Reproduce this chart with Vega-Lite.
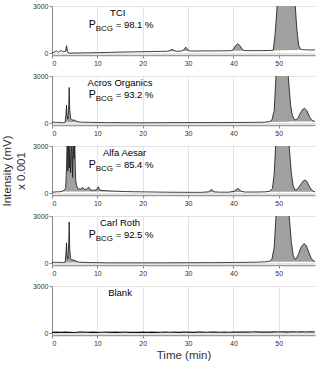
{
  "$schema": "https://vega.github.io/schema/vega-lite/v6.json",
  "padding": {"left": 1, "top": 2, "right": 3, "bottom": 2},
  "spacing": 21,
  "bounds": "flush",
  "datasets": {
    "curves": [
      {"s":"TCI","t":0,"v":20,"b":20},{"s":"TCI","t":0.5,"v":60,"b":60},{"s":"TCI","t":1.0,"v":150,"b":150},{"s":"TCI","t":1.2,"v":80,"b":80},{"s":"TCI","t":1.5,"v":60,"b":60},{"s":"TCI","t":2.0,"v":180,"b":180},{"s":"TCI","t":2.2,"v":100,"b":100},{"s":"TCI","t":2.6,"v":90,"b":90},{"s":"TCI","t":3.0,"v":120,"b":120},{"s":"TCI","t":3.2,"v":470,"b":120},{"s":"TCI","t":3.4,"v":150,"b":100},{"s":"TCI","t":3.6,"v":10,"b":10},{"s":"TCI","t":4,"v":0,"b":0},{"s":"TCI","t":5,"v":10,"b":10},{"s":"TCI","t":6,"v":10,"b":10},{"s":"TCI","t":8,"v":20,"b":20},{"s":"TCI","t":10,"v":30,"b":30},{"s":"TCI","t":12,"v":40,"b":40},{"s":"TCI","t":14,"v":60,"b":60},{"s":"TCI","t":16,"v":70,"b":70},{"s":"TCI","t":18,"v":80,"b":80},{"s":"TCI","t":20,"v":90,"b":90},{"s":"TCI","t":22,"v":100,"b":100},{"s":"TCI","t":24,"v":110,"b":110},{"s":"TCI","t":25.5,"v":120,"b":120},{"s":"TCI","t":26,"v":160,"b":120},{"s":"TCI","t":26.5,"v":240,"b":120},{"s":"TCI","t":27,"v":160,"b":120},{"s":"TCI","t":27.5,"v":120,"b":120},{"s":"TCI","t":28.5,"v":125,"b":125},{"s":"TCI","t":29,"v":200,"b":127},{"s":"TCI","t":29.5,"v":380,"b":128},{"s":"TCI","t":30,"v":200,"b":129},{"s":"TCI","t":30.5,"v":130,"b":130},{"s":"TCI","t":32,"v":135,"b":135},{"s":"TCI","t":34,"v":140,"b":140},{"s":"TCI","t":36,"v":140,"b":140},{"s":"TCI","t":38,"v":145,"b":145},{"s":"TCI","t":39.5,"v":150,"b":150},{"s":"TCI","t":40,"v":250,"b":150},{"s":"TCI","t":40.5,"v":480,"b":151},{"s":"TCI","t":41,"v":600,"b":152},{"s":"TCI","t":41.5,"v":450,"b":153},{"s":"TCI","t":42,"v":220,"b":154},{"s":"TCI","t":42.5,"v":160,"b":155},{"s":"TCI","t":44,"v":155,"b":155},{"s":"TCI","t":46,"v":160,"b":160},{"s":"TCI","t":48,"v":165,"b":165},{"s":"TCI","t":48.8,"v":200,"b":168},{"s":"TCI","t":49.2,"v":1200,"b":170},{"s":"TCI","t":49.6,"v":2800,"b":172},{"s":"TCI","t":50,"v":5000,"b":175},{"s":"TCI","t":51.5,"v":8000,"b":185},{"s":"TCI","t":53,"v":5000,"b":195},{"s":"TCI","t":53.6,"v":3200,"b":200},{"s":"TCI","t":54,"v":1500,"b":205},{"s":"TCI","t":54.4,"v":500,"b":210},{"s":"TCI","t":54.8,"v":250,"b":215},{"s":"TCI","t":55.2,"v":220,"b":220},{"s":"TCI","t":56,"v":210,"b":210},{"s":"TCI","t":57,"v":200,"b":200},{"s":"TCI","t":58,"v":200,"b":200},

      {"s":"Acros Organics","t":0,"v":50,"b":50},{"s":"Acros Organics","t":0.5,"v":60,"b":60},{"s":"Acros Organics","t":1,"v":40,"b":40},{"s":"Acros Organics","t":1.5,"v":50,"b":50},{"s":"Acros Organics","t":2,"v":30,"b":30},{"s":"Acros Organics","t":2.5,"v":20,"b":20},{"s":"Acros Organics","t":2.9,"v":50,"b":50},{"s":"Acros Organics","t":3.1,"v":600,"b":50},{"s":"Acros Organics","t":3.2,"v":1150,"b":50},{"s":"Acros Organics","t":3.3,"v":500,"b":50},{"s":"Acros Organics","t":3.5,"v":250,"b":50},{"s":"Acros Organics","t":3.7,"v":1200,"b":50},{"s":"Acros Organics","t":3.8,"v":2270,"b":50},{"s":"Acros Organics","t":3.9,"v":900,"b":50},{"s":"Acros Organics","t":4.1,"v":300,"b":50},{"s":"Acros Organics","t":4.3,"v":250,"b":50},{"s":"Acros Organics","t":4.6,"v":180,"b":50},{"s":"Acros Organics","t":5.0,"v":200,"b":50},{"s":"Acros Organics","t":5.3,"v":120,"b":50},{"s":"Acros Organics","t":5.8,"v":80,"b":50},{"s":"Acros Organics","t":6.5,"v":60,"b":60},{"s":"Acros Organics","t":8,"v":50,"b":50},{"s":"Acros Organics","t":10,"v":40,"b":40},{"s":"Acros Organics","t":12,"v":30,"b":30},{"s":"Acros Organics","t":15,"v":30,"b":30},{"s":"Acros Organics","t":20,"v":20,"b":20},{"s":"Acros Organics","t":25,"v":30,"b":30},{"s":"Acros Organics","t":30,"v":35,"b":35},{"s":"Acros Organics","t":35,"v":35,"b":35},{"s":"Acros Organics","t":40,"v":40,"b":40},{"s":"Acros Organics","t":45,"v":50,"b":50},{"s":"Acros Organics","t":47,"v":60,"b":60},{"s":"Acros Organics","t":48,"v":100,"b":70},{"s":"Acros Organics","t":48.5,"v":200,"b":72},{"s":"Acros Organics","t":49,"v":800,"b":75},{"s":"Acros Organics","t":49.4,"v":3000,"b":78},{"s":"Acros Organics","t":50,"v":6000,"b":80},{"s":"Acros Organics","t":51,"v":7000,"b":85},{"s":"Acros Organics","t":51.8,"v":4000,"b":90},{"s":"Acros Organics","t":52.1,"v":3000,"b":92},{"s":"Acros Organics","t":52.6,"v":1200,"b":95},{"s":"Acros Organics","t":53,"v":500,"b":98},{"s":"Acros Organics","t":53.4,"v":250,"b":100},{"s":"Acros Organics","t":53.8,"v":200,"b":100},{"s":"Acros Organics","t":54.3,"v":350,"b":100},{"s":"Acros Organics","t":54.8,"v":650,"b":100},{"s":"Acros Organics","t":55.3,"v":880,"b":100},{"s":"Acros Organics","t":55.7,"v":940,"b":100},{"s":"Acros Organics","t":56.2,"v":800,"b":100},{"s":"Acros Organics","t":56.7,"v":450,"b":100},{"s":"Acros Organics","t":57.2,"v":220,"b":100},{"s":"Acros Organics","t":57.7,"v":130,"b":100},{"s":"Acros Organics","t":58,"v":110,"b":100},

      {"s":"Alfa Aesar","t":0,"v":80,"b":80},{"s":"Alfa Aesar","t":0.5,"v":60,"b":60},{"s":"Alfa Aesar","t":1,"v":90,"b":90},{"s":"Alfa Aesar","t":1.5,"v":80,"b":80},{"s":"Alfa Aesar","t":2,"v":100,"b":100},{"s":"Alfa Aesar","t":2.5,"v":150,"b":100},{"s":"Alfa Aesar","t":3.0,"v":300,"b":100},{"s":"Alfa Aesar","t":3.2,"v":1500,"b":100},{"s":"Alfa Aesar","t":3.35,"v":3500,"b":100},{"s":"Alfa Aesar","t":3.5,"v":1400,"b":100},{"s":"Alfa Aesar","t":3.65,"v":3500,"b":100},{"s":"Alfa Aesar","t":3.8,"v":1600,"b":100},{"s":"Alfa Aesar","t":3.95,"v":3500,"b":100},{"s":"Alfa Aesar","t":4.1,"v":1300,"b":100},{"s":"Alfa Aesar","t":4.25,"v":2400,"b":100},{"s":"Alfa Aesar","t":4.4,"v":3500,"b":100},{"s":"Alfa Aesar","t":4.55,"v":1000,"b":100},{"s":"Alfa Aesar","t":4.7,"v":3500,"b":100},{"s":"Alfa Aesar","t":4.85,"v":2200,"b":100},{"s":"Alfa Aesar","t":5.0,"v":3500,"b":100},{"s":"Alfa Aesar","t":5.2,"v":900,"b":100},{"s":"Alfa Aesar","t":5.4,"v":500,"b":100},{"s":"Alfa Aesar","t":5.7,"v":300,"b":100},{"s":"Alfa Aesar","t":6.2,"v":250,"b":100},{"s":"Alfa Aesar","t":6.8,"v":350,"b":100},{"s":"Alfa Aesar","t":7.2,"v":220,"b":100},{"s":"Alfa Aesar","t":7.6,"v":250,"b":100},{"s":"Alfa Aesar","t":8.1,"v":380,"b":100},{"s":"Alfa Aesar","t":8.5,"v":200,"b":100},{"s":"Alfa Aesar","t":9.2,"v":180,"b":100},{"s":"Alfa Aesar","t":9.8,"v":200,"b":100},{"s":"Alfa Aesar","t":10.2,"v":400,"b":100},{"s":"Alfa Aesar","t":10.6,"v":180,"b":100},{"s":"Alfa Aesar","t":12,"v":150,"b":100},{"s":"Alfa Aesar","t":14,"v":120,"b":100},{"s":"Alfa Aesar","t":16,"v":100,"b":100},{"s":"Alfa Aesar","t":18,"v":90,"b":90},{"s":"Alfa Aesar","t":20,"v":80,"b":80},{"s":"Alfa Aesar","t":25,"v":60,"b":60},{"s":"Alfa Aesar","t":30,"v":50,"b":50},{"s":"Alfa Aesar","t":33,"v":50,"b":50},{"s":"Alfa Aesar","t":34.5,"v":80,"b":50},{"s":"Alfa Aesar","t":35.2,"v":230,"b":50},{"s":"Alfa Aesar","t":35.8,"v":80,"b":50},{"s":"Alfa Aesar","t":37,"v":60,"b":60},{"s":"Alfa Aesar","t":39,"v":60,"b":60},{"s":"Alfa Aesar","t":40.2,"v":120,"b":62},{"s":"Alfa Aesar","t":41,"v":300,"b":65},{"s":"Alfa Aesar","t":41.7,"v":120,"b":68},{"s":"Alfa Aesar","t":42.5,"v":70,"b":70},{"s":"Alfa Aesar","t":45,"v":70,"b":70},{"s":"Alfa Aesar","t":47,"v":80,"b":80},{"s":"Alfa Aesar","t":48,"v":120,"b":85},{"s":"Alfa Aesar","t":48.6,"v":300,"b":87},{"s":"Alfa Aesar","t":49,"v":1200,"b":90},{"s":"Alfa Aesar","t":49.3,"v":3000,"b":90},{"s":"Alfa Aesar","t":50,"v":6000,"b":90},{"s":"Alfa Aesar","t":51,"v":7000,"b":90},{"s":"Alfa Aesar","t":51.9,"v":4000,"b":90},{"s":"Alfa Aesar","t":52.3,"v":3000,"b":90},{"s":"Alfa Aesar","t":52.8,"v":1200,"b":90},{"s":"Alfa Aesar","t":53.2,"v":450,"b":90},{"s":"Alfa Aesar","t":53.6,"v":200,"b":90},{"s":"Alfa Aesar","t":54,"v":220,"b":90},{"s":"Alfa Aesar","t":54.5,"v":400,"b":90},{"s":"Alfa Aesar","t":55,"v":620,"b":90},{"s":"Alfa Aesar","t":55.5,"v":800,"b":90},{"s":"Alfa Aesar","t":55.9,"v":830,"b":90},{"s":"Alfa Aesar","t":56.3,"v":700,"b":90},{"s":"Alfa Aesar","t":56.8,"v":400,"b":90},{"s":"Alfa Aesar","t":57.3,"v":180,"b":90},{"s":"Alfa Aesar","t":57.8,"v":100,"b":90},{"s":"Alfa Aesar","t":58,"v":90,"b":90},

      {"s":"Carl Roth","t":0,"v":60,"b":60},{"s":"Carl Roth","t":0.5,"v":50,"b":50},{"s":"Carl Roth","t":1,"v":60,"b":60},{"s":"Carl Roth","t":1.5,"v":40,"b":40},{"s":"Carl Roth","t":2,"v":50,"b":50},{"s":"Carl Roth","t":2.5,"v":30,"b":30},{"s":"Carl Roth","t":2.9,"v":60,"b":40},{"s":"Carl Roth","t":3.1,"v":700,"b":40},{"s":"Carl Roth","t":3.2,"v":1290,"b":40},{"s":"Carl Roth","t":3.3,"v":500,"b":40},{"s":"Carl Roth","t":3.5,"v":250,"b":40},{"s":"Carl Roth","t":3.7,"v":1400,"b":40},{"s":"Carl Roth","t":3.8,"v":2620,"b":40},{"s":"Carl Roth","t":3.9,"v":900,"b":40},{"s":"Carl Roth","t":4.1,"v":300,"b":40},{"s":"Carl Roth","t":4.3,"v":220,"b":40},{"s":"Carl Roth","t":4.6,"v":200,"b":40},{"s":"Carl Roth","t":5,"v":180,"b":40},{"s":"Carl Roth","t":5.5,"v":100,"b":40},{"s":"Carl Roth","t":6,"v":60,"b":40},{"s":"Carl Roth","t":8,"v":40,"b":40},{"s":"Carl Roth","t":10,"v":30,"b":30},{"s":"Carl Roth","t":12,"v":20,"b":20},{"s":"Carl Roth","t":15,"v":20,"b":20},{"s":"Carl Roth","t":20,"v":20,"b":20},{"s":"Carl Roth","t":25,"v":20,"b":20},{"s":"Carl Roth","t":30,"v":25,"b":25},{"s":"Carl Roth","t":35,"v":30,"b":30},{"s":"Carl Roth","t":40,"v":40,"b":40},{"s":"Carl Roth","t":45,"v":60,"b":60},{"s":"Carl Roth","t":47,"v":80,"b":80},{"s":"Carl Roth","t":48,"v":120,"b":85},{"s":"Carl Roth","t":48.5,"v":250,"b":88},{"s":"Carl Roth","t":49,"v":1000,"b":90},{"s":"Carl Roth","t":49.4,"v":3000,"b":90},{"s":"Carl Roth","t":50,"v":6000,"b":90},{"s":"Carl Roth","t":51,"v":7000,"b":90},{"s":"Carl Roth","t":51.9,"v":4000,"b":90},{"s":"Carl Roth","t":52.3,"v":3000,"b":90},{"s":"Carl Roth","t":52.8,"v":1300,"b":90},{"s":"Carl Roth","t":53.2,"v":500,"b":90},{"s":"Carl Roth","t":53.5,"v":250,"b":90},{"s":"Carl Roth","t":53.9,"v":300,"b":90},{"s":"Carl Roth","t":54.4,"v":600,"b":90},{"s":"Carl Roth","t":54.9,"v":1000,"b":90},{"s":"Carl Roth","t":55.4,"v":1200,"b":90},{"s":"Carl Roth","t":55.7,"v":1230,"b":90},{"s":"Carl Roth","t":56.1,"v":1100,"b":90},{"s":"Carl Roth","t":56.6,"v":700,"b":90},{"s":"Carl Roth","t":57.1,"v":350,"b":90},{"s":"Carl Roth","t":57.6,"v":150,"b":90},{"s":"Carl Roth","t":58,"v":100,"b":90},

      {"s":"Blank","t":0,"v":50,"b":50},{"s":"Blank","t":1,"v":60,"b":60},{"s":"Blank","t":2,"v":45,"b":45},{"s":"Blank","t":3,"v":65,"b":65},{"s":"Blank","t":4,"v":50,"b":50},{"s":"Blank","t":5,"v":40,"b":40},{"s":"Blank","t":6,"v":60,"b":60},{"s":"Blank","t":7,"v":70,"b":70},{"s":"Blank","t":8,"v":50,"b":50},{"s":"Blank","t":9,"v":60,"b":60},{"s":"Blank","t":10,"v":45,"b":45},{"s":"Blank","t":11,"v":55,"b":55},{"s":"Blank","t":12,"v":65,"b":65},{"s":"Blank","t":13,"v":50,"b":50},{"s":"Blank","t":14,"v":60,"b":60},{"s":"Blank","t":15,"v":50,"b":50},{"s":"Blank","t":16,"v":70,"b":70},{"s":"Blank","t":17,"v":50,"b":50},{"s":"Blank","t":18,"v":55,"b":55},{"s":"Blank","t":19,"v":45,"b":45},{"s":"Blank","t":20,"v":60,"b":60},{"s":"Blank","t":21,"v":50,"b":50},{"s":"Blank","t":22,"v":65,"b":65},{"s":"Blank","t":23,"v":50,"b":50},{"s":"Blank","t":24,"v":55,"b":55},{"s":"Blank","t":25,"v":70,"b":70},{"s":"Blank","t":26,"v":55,"b":55},{"s":"Blank","t":27,"v":60,"b":60},{"s":"Blank","t":28,"v":50,"b":50},{"s":"Blank","t":29,"v":65,"b":65},{"s":"Blank","t":30,"v":60,"b":60},{"s":"Blank","t":31,"v":50,"b":50},{"s":"Blank","t":32,"v":60,"b":60},{"s":"Blank","t":33,"v":70,"b":70},{"s":"Blank","t":34,"v":55,"b":55},{"s":"Blank","t":35,"v":60,"b":60},{"s":"Blank","t":36,"v":70,"b":70},{"s":"Blank","t":37,"v":55,"b":55},{"s":"Blank","t":38,"v":65,"b":65},{"s":"Blank","t":39,"v":55,"b":55},{"s":"Blank","t":40,"v":75,"b":75},{"s":"Blank","t":41,"v":60,"b":60},{"s":"Blank","t":42,"v":70,"b":70},{"s":"Blank","t":43,"v":60,"b":60},{"s":"Blank","t":44,"v":70,"b":70},{"s":"Blank","t":45,"v":80,"b":80},{"s":"Blank","t":46,"v":65,"b":65},{"s":"Blank","t":47,"v":75,"b":75},{"s":"Blank","t":48,"v":60,"b":60},{"s":"Blank","t":49,"v":80,"b":80},{"s":"Blank","t":50,"v":70,"b":70},{"s":"Blank","t":51,"v":80,"b":80},{"s":"Blank","t":52,"v":65,"b":65},{"s":"Blank","t":53,"v":85,"b":85},{"s":"Blank","t":54,"v":70,"b":70},{"s":"Blank","t":55,"v":80,"b":80},{"s":"Blank","t":56,"v":70,"b":70},{"s":"Blank","t":57,"v":85,"b":85},{"s":"Blank","t":58,"v":75,"b":75}
    ],
    "labels": [
      {"s":"TCI","name":"TCI","p":"= 98.1 %","lt":14.5,"lv":2550,"pt":8.1,"pv":1800},
      {"s":"Acros Organics","name":"Acros Organics","p":"= 93.2 %","lt":15,"lv":2550,"pt":8.1,"pv":1800},
      {"s":"Alfa Aesar","name":"Alfa Aesar","p":"= 85.4 %","lt":16,"lv":2550,"pt":8.1,"pv":1800},
      {"s":"Carl Roth","name":"Carl Roth","p":"= 92.5 %","lt":15,"lv":2550,"pt":8.1,"pv":1800},
      {"s":"Blank","name":"Blank","p":"","lt":15,"lv":2550,"pt":8.1,"pv":1800}
    ]
  },
  "vconcat": [
    {
      "width": 263, "height": 49,
      "layer": [
        {"data": {"name": "curves"}, "transform": [{"filter": "datum.s === 'TCI'"}],
         "mark": {"type": "area", "clip": true, "color": "#a0a0a0"},
         "encoding": {"x": {"field": "t", "type": "quantitative", "scale": {"domain": [0, 58], "nice": false}, "axis": {"values": [0,10,20,30,40,50], "title": null}},
                      "y": {"field": "v", "type": "quantitative", "scale": {"domain": [-120, 3000], "nice": false}, "axis": {"values": [0,1000,2000,3000], "format": "d", "title": null}},
                      "y2": {"field": "b"}}},
        {"data": {"name": "curves"}, "transform": [{"filter": "datum.s === 'TCI'"}],
         "mark": {"type": "line", "clip": true, "color": "#111", "strokeWidth": 0.8},
         "encoding": {"x": {"field": "t", "type": "quantitative"}, "y": {"field": "v", "type": "quantitative"}}},
        {"data": {"name": "labels"}, "transform": [{"filter": "datum.s === 'TCI'"}],
         "mark": {"type": "text", "fontSize": 9.5, "align": "center", "baseline": "middle", "color": "#000"},
         "encoding": {"x": {"field": "lt", "type": "quantitative"}, "y": {"field": "lv", "type": "quantitative"}, "text": {"field": "name"}}},
        {"data": {"name": "labels"}, "transform": [{"filter": "datum.s === 'TCI'"}],
         "mark": {"type": "text", "fontSize": 10.5, "align": "left", "baseline": "middle", "color": "#000"},
         "encoding": {"x": {"field": "pt", "type": "quantitative"}, "y": {"field": "pv", "type": "quantitative"}, "text": {"value": "P"}}},
        {"data": {"name": "labels"}, "transform": [{"filter": "datum.s === 'TCI'"}],
         "mark": {"type": "text", "fontSize": 8, "align": "left", "baseline": "middle", "dx": 7, "dy": 4, "color": "#000"},
         "encoding": {"x": {"field": "pt", "type": "quantitative"}, "y": {"field": "pv", "type": "quantitative"}, "text": {"value": "BCG"}}},
        {"data": {"name": "labels"}, "transform": [{"filter": "datum.s === 'TCI'"}],
         "mark": {"type": "text", "fontSize": 9.5, "align": "left", "baseline": "middle", "dx": 27, "color": "#000"},
         "encoding": {"x": {"field": "pt", "type": "quantitative"}, "y": {"field": "pv", "type": "quantitative"}, "text": {"field": "p"}}}
      ]
    },
    {
      "width": 263, "height": 49,
      "layer": [
        {"data": {"name": "curves"}, "transform": [{"filter": "datum.s === 'Acros Organics'"}],
         "mark": {"type": "area", "clip": true, "color": "#a0a0a0"},
         "encoding": {"x": {"field": "t", "type": "quantitative", "scale": {"domain": [0, 58], "nice": false}, "axis": {"values": [0,10,20,30,40,50], "title": null}},
                      "y": {"field": "v", "type": "quantitative", "scale": {"domain": [-120, 3000], "nice": false}, "axis": {"values": [0,1000,2000,3000], "format": "d", "title": null}},
                      "y2": {"field": "b"}}},
        {"data": {"name": "curves"}, "transform": [{"filter": "datum.s === 'Acros Organics'"}],
         "mark": {"type": "line", "clip": true, "color": "#111", "strokeWidth": 0.8},
         "encoding": {"x": {"field": "t", "type": "quantitative"}, "y": {"field": "v", "type": "quantitative"}}},
        {"data": {"name": "labels"}, "transform": [{"filter": "datum.s === 'Acros Organics'"}],
         "mark": {"type": "text", "fontSize": 9.5, "align": "center", "baseline": "middle", "color": "#000"},
         "encoding": {"x": {"field": "lt", "type": "quantitative"}, "y": {"field": "lv", "type": "quantitative"}, "text": {"field": "name"}}},
        {"data": {"name": "labels"}, "transform": [{"filter": "datum.s === 'Acros Organics'"}],
         "mark": {"type": "text", "fontSize": 10.5, "align": "left", "baseline": "middle", "color": "#000"},
         "encoding": {"x": {"field": "pt", "type": "quantitative"}, "y": {"field": "pv", "type": "quantitative"}, "text": {"value": "P"}}},
        {"data": {"name": "labels"}, "transform": [{"filter": "datum.s === 'Acros Organics'"}],
         "mark": {"type": "text", "fontSize": 8, "align": "left", "baseline": "middle", "dx": 7, "dy": 4, "color": "#000"},
         "encoding": {"x": {"field": "pt", "type": "quantitative"}, "y": {"field": "pv", "type": "quantitative"}, "text": {"value": "BCG"}}},
        {"data": {"name": "labels"}, "transform": [{"filter": "datum.s === 'Acros Organics'"}],
         "mark": {"type": "text", "fontSize": 9.5, "align": "left", "baseline": "middle", "dx": 27, "color": "#000"},
         "encoding": {"x": {"field": "pt", "type": "quantitative"}, "y": {"field": "pv", "type": "quantitative"}, "text": {"field": "p"}}}
      ]
    },
    {
      "width": 263, "height": 49,
      "layer": [
        {"data": {"name": "curves"}, "transform": [{"filter": "datum.s === 'Alfa Aesar'"}],
         "mark": {"type": "area", "clip": true, "color": "#a0a0a0"},
         "encoding": {"x": {"field": "t", "type": "quantitative", "scale": {"domain": [0, 58], "nice": false}, "axis": {"values": [0,10,20,30,40,50], "title": null}},
                      "y": {"field": "v", "type": "quantitative", "scale": {"domain": [-120, 3000], "nice": false}, "axis": {"values": [0,1000,2000,3000], "format": "d", "title": ["Intensity (mV)", "x 0.001"], "titlePadding": 6}},
                      "y2": {"field": "b"}}},
        {"data": {"name": "curves"}, "transform": [{"filter": "datum.s === 'Alfa Aesar'"}],
         "mark": {"type": "line", "clip": true, "color": "#111", "strokeWidth": 0.8},
         "encoding": {"x": {"field": "t", "type": "quantitative"}, "y": {"field": "v", "type": "quantitative"}}},
        {"data": {"name": "labels"}, "transform": [{"filter": "datum.s === 'Alfa Aesar'"}],
         "mark": {"type": "text", "fontSize": 9.5, "align": "center", "baseline": "middle", "color": "#000"},
         "encoding": {"x": {"field": "lt", "type": "quantitative"}, "y": {"field": "lv", "type": "quantitative"}, "text": {"field": "name"}}},
        {"data": {"name": "labels"}, "transform": [{"filter": "datum.s === 'Alfa Aesar'"}],
         "mark": {"type": "text", "fontSize": 10.5, "align": "left", "baseline": "middle", "color": "#000"},
         "encoding": {"x": {"field": "pt", "type": "quantitative"}, "y": {"field": "pv", "type": "quantitative"}, "text": {"value": "P"}}},
        {"data": {"name": "labels"}, "transform": [{"filter": "datum.s === 'Alfa Aesar'"}],
         "mark": {"type": "text", "fontSize": 8, "align": "left", "baseline": "middle", "dx": 7, "dy": 4, "color": "#000"},
         "encoding": {"x": {"field": "pt", "type": "quantitative"}, "y": {"field": "pv", "type": "quantitative"}, "text": {"value": "BCG"}}},
        {"data": {"name": "labels"}, "transform": [{"filter": "datum.s === 'Alfa Aesar'"}],
         "mark": {"type": "text", "fontSize": 9.5, "align": "left", "baseline": "middle", "dx": 27, "color": "#000"},
         "encoding": {"x": {"field": "pt", "type": "quantitative"}, "y": {"field": "pv", "type": "quantitative"}, "text": {"field": "p"}}}
      ]
    },
    {
      "width": 263, "height": 49,
      "layer": [
        {"data": {"name": "curves"}, "transform": [{"filter": "datum.s === 'Carl Roth'"}],
         "mark": {"type": "area", "clip": true, "color": "#a0a0a0"},
         "encoding": {"x": {"field": "t", "type": "quantitative", "scale": {"domain": [0, 58], "nice": false}, "axis": {"values": [0,10,20,30,40,50], "title": null}},
                      "y": {"field": "v", "type": "quantitative", "scale": {"domain": [-120, 3000], "nice": false}, "axis": {"values": [0,1000,2000,3000], "format": "d", "title": null}},
                      "y2": {"field": "b"}}},
        {"data": {"name": "curves"}, "transform": [{"filter": "datum.s === 'Carl Roth'"}],
         "mark": {"type": "line", "clip": true, "color": "#111", "strokeWidth": 0.8},
         "encoding": {"x": {"field": "t", "type": "quantitative"}, "y": {"field": "v", "type": "quantitative"}}},
        {"data": {"name": "labels"}, "transform": [{"filter": "datum.s === 'Carl Roth'"}],
         "mark": {"type": "text", "fontSize": 9.5, "align": "center", "baseline": "middle", "color": "#000"},
         "encoding": {"x": {"field": "lt", "type": "quantitative"}, "y": {"field": "lv", "type": "quantitative"}, "text": {"field": "name"}}},
        {"data": {"name": "labels"}, "transform": [{"filter": "datum.s === 'Carl Roth'"}],
         "mark": {"type": "text", "fontSize": 10.5, "align": "left", "baseline": "middle", "color": "#000"},
         "encoding": {"x": {"field": "pt", "type": "quantitative"}, "y": {"field": "pv", "type": "quantitative"}, "text": {"value": "P"}}},
        {"data": {"name": "labels"}, "transform": [{"filter": "datum.s === 'Carl Roth'"}],
         "mark": {"type": "text", "fontSize": 8, "align": "left", "baseline": "middle", "dx": 7, "dy": 4, "color": "#000"},
         "encoding": {"x": {"field": "pt", "type": "quantitative"}, "y": {"field": "pv", "type": "quantitative"}, "text": {"value": "BCG"}}},
        {"data": {"name": "labels"}, "transform": [{"filter": "datum.s === 'Carl Roth'"}],
         "mark": {"type": "text", "fontSize": 9.5, "align": "left", "baseline": "middle", "dx": 27, "color": "#000"},
         "encoding": {"x": {"field": "pt", "type": "quantitative"}, "y": {"field": "pv", "type": "quantitative"}, "text": {"field": "p"}}}
      ]
    },
    {
      "width": 263, "height": 49,
      "layer": [
        {"data": {"name": "curves"}, "transform": [{"filter": "datum.s === 'Blank'"}],
         "mark": {"type": "line", "clip": true, "color": "#111", "strokeWidth": 1.1},
         "encoding": {"x": {"field": "t", "type": "quantitative", "scale": {"domain": [0, 58], "nice": false}, "axis": {"values": [0,10,20,30,40,50], "title": "Time (min)", "titlePadding": 3}},
                      "y": {"field": "v", "type": "quantitative", "scale": {"domain": [-120, 3000], "nice": false}, "axis": {"values": [0,1000,2000,3000], "format": "d", "title": null}}}},
        {"data": {"name": "labels"}, "transform": [{"filter": "datum.s === 'Blank'"}],
         "mark": {"type": "text", "fontSize": 9.5, "align": "center", "baseline": "middle", "color": "#000"},
         "encoding": {"x": {"field": "lt", "type": "quantitative"}, "y": {"field": "lv", "type": "quantitative"}, "text": {"field": "name"}}}
      ]
    }
  ],
  "config": {
    "font": "Liberation Sans",
    "view": {"stroke": null},
    "axis": {"grid": true, "gridColor": "#dcdcdc", "gridWidth": 0.8, "domainColor": "#888", "tickColor": "#888", "tickSize": 3, "labelColor": "#333", "labelFontSize": 7, "labelPadding": 1, "titleFontSize": 11.5, "titleFontWeight": "normal", "titleColor": "#333"},
    "axisX": {"domainWidth": 1.5, "domainColor": "#999"}
  }
}
